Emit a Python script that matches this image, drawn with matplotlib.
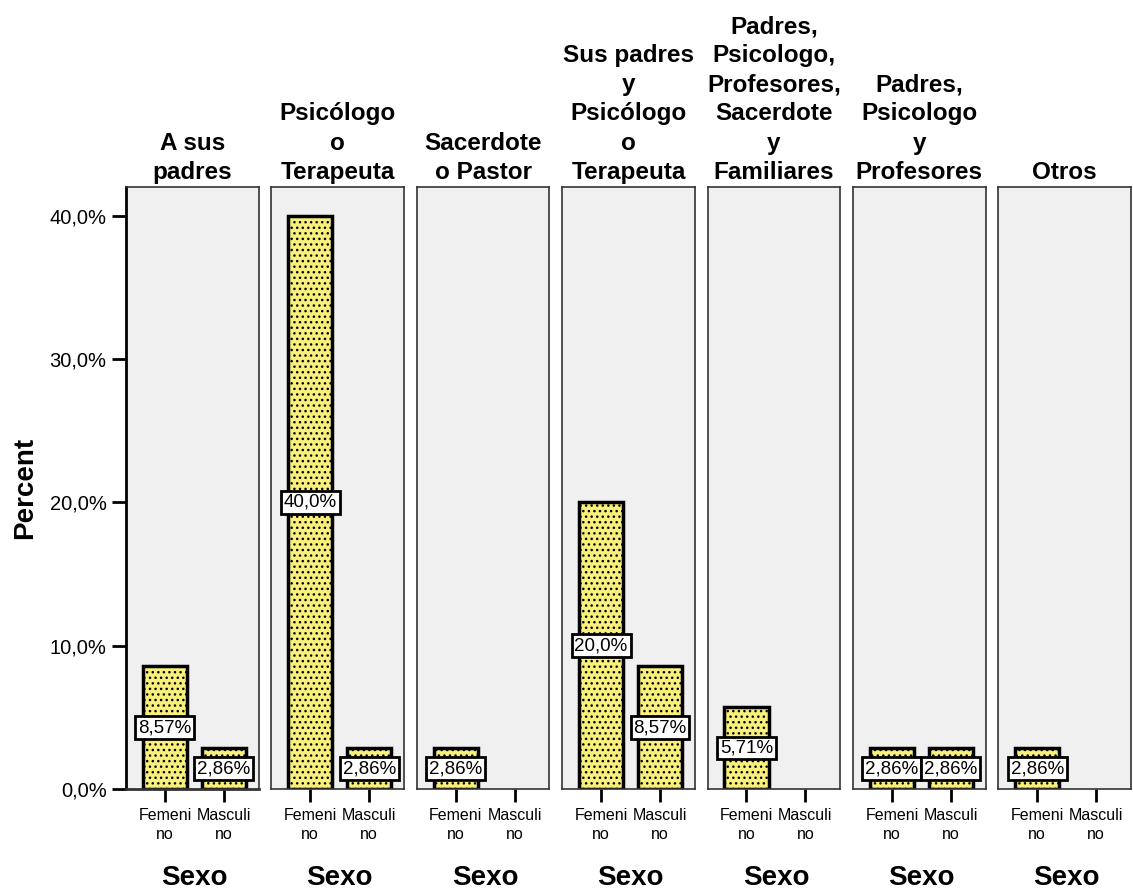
import matplotlib
matplotlib.use("Agg")
import matplotlib.pyplot as plt

plt.rcParams['font.family'] = ['Liberation Sans', 'DejaVu Sans']
plt.rcParams['hatch.linewidth'] = 1.0

groups = ["A sus\npadres", "Psicólogo\no\nTerapeuta", "Sacerdote\no Pastor",
          "Sus padres\ny\nPsicólogo\no\nTerapeuta",
          "Padres,\nPsicologo,\nProfesores,\nSacerdote\ny\nFamiliares",
          "Padres,\nPsicologo\ny\nProfesores", "Otros"]
sexo = ["Femeni\nno", "Masculi\nno"]
femenino = [8.57, 40.0, 2.86, 20.0, 5.71, 2.86, 2.86]
masculino = [2.86, 2.86, 0, 8.57, 0, 2.86, 0]
yticks = [0, 10, 20, 30, 40]
ytick_labels = ["0,0%", "10,0%", "20,0%", "30,0%", "40,0%"]


def fmt(v):
    s = f"{v:.1f}%" if abs(v - round(v)) < 1e-9 else f"{v:.2f}%"
    return s.replace('.', ',')


fig = plt.figure(figsize=(11.33, 8.92), dpi=100)
W, H = 1133, 892
left, pw, gap = 126, 132.6, 12.8
top, bottom = 187, 789
xmin, xmax = -0.66, 1.59

for i, g in enumerate(groups):
    x0 = left + i * (pw + gap)
    ax = fig.add_axes([x0 / W, 1 - bottom / H, pw / W, (bottom - top) / H])
    ax.set_facecolor('#f0f0f0')
    vals = [femenino[i], masculino[i]]
    for j, v in enumerate(vals):
        if v <= 0:
            continue
        ax.bar(j, v, width=0.75, color='#f8f07a', edgecolor='black',
               linewidth=2.5, hatch='...', zorder=2)
        ax.text(j, v / 2, fmt(v), ha='center', va='center', fontsize=13.5, zorder=3,
                bbox=dict(boxstyle='square,pad=0.15', fc='white', ec='black', lw=2))
    ax.set_xlim(xmin, xmax)
    ax.set_ylim(0, 42.0)
    ax.set_xticks([0, 1])
    ax.set_xticklabels(sexo, fontsize=11.5, linespacing=1.3)
    ax.tick_params(axis='x', length=9, width=2, pad=5)
    ax.set_title(g, fontsize=17.5, fontweight='bold', pad=6, linespacing=1.34)
    ax.set_xlabel("Sexo", fontsize=20, fontweight='bold')
    ax.xaxis.set_label_coords((0.5 - xmin) / (xmax - xmin), -0.127)
    for s in ax.spines.values():
        s.set_linewidth(1.2)
        s.set_color('#333333')
    if i == 0:
        ax.set_yticks(yticks)
        ax.set_yticklabels(ytick_labels, fontsize=14.5)
        ax.tick_params(axis='y', length=10, width=2, pad=4)
        ax.spines['left'].set_linewidth(2)
        ax.spines['left'].set_color('black')
        ax.spines['bottom'].set_linewidth(2)
        ax.set_ylabel("Percent", fontsize=20, fontweight='bold', labelpad=8)
    else:
        ax.set_yticks([])

fig.savefig("out.png", dpi=100)
